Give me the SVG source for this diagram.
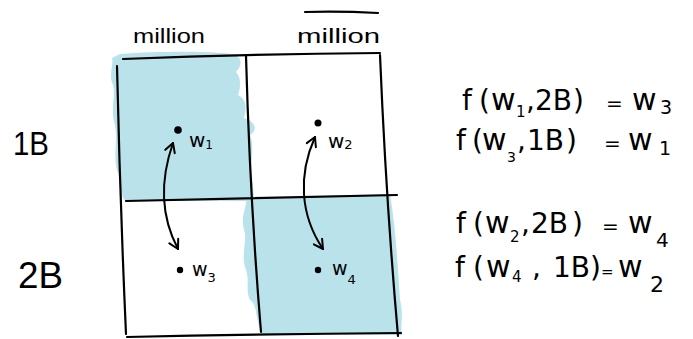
<svg xmlns="http://www.w3.org/2000/svg" width="693" height="339" viewBox="0 0 693 339">
<style>
.ln{fill:none;stroke:#000;stroke-width:2.2;stroke-linecap:round;stroke-linejoin:round}
.blue{fill:#b9e2eb}
.t{font-family:"Liberation Sans","DejaVu Sans",sans-serif;fill:#000}
.e{font-family:"DejaVu Sans","Liberation Sans",sans-serif;fill:#000;font-size:28px}
.dot{fill:#000}
.arr{fill:none;stroke:#000;stroke-width:2;stroke-linecap:round;marker-start:url(#ah);marker-end:url(#ah)}
.w{font-size:30px}
.eq{font-size:20px}
</style>
<defs>
<marker id="ah" viewBox="0 0 12 12" refX="11" refY="6" markerWidth="12" markerHeight="12" markerUnits="userSpaceOnUse" orient="auto-start-reverse">
<polyline points="2,1 11,6 2,11" fill="none" stroke="#000" stroke-width="2" stroke-linecap="round" stroke-linejoin="round"/>
</marker>
</defs>
<rect width="693" height="339" fill="#fff"/>
<g id="shading">
<path class="blue" d="M120,54 C160,51 220,51 236,55 C244,60 240,68 236,72 C242,78 240,90 238,95 C248,100 246,110 244,118 C256,122 258,130 250,135 C254,145 252,160 250,170 C254,180 252,190 255,201 L125,201 C118,190 122,180 117,170 C113,155 118,140 115,125 C110,110 116,95 113,85 C108,75 114,65 112,58 Z"/>
<path class="blue" d="M246,198 L390,194 C396,230 398,270 400,300 C404,315 400,325 402,335 L262,334 C255,320 258,305 250,300 C245,290 250,280 246,270 C240,255 248,240 244,230 C240,215 248,205 246,198 Z"/>
</g>
<g id="grid">
<path class="ln" d="M123,59 Q250,54 380,53"/>
<path class="ln" d="M117,66 Q120,200 126,334"/>
<path class="ln" d="M246,56 Q250,200 261,332"/>
<path class="ln" d="M380,55 Q386,200 398,336"/>
<path class="ln" d="M126,201 Q260,198 397,195"/>
<path class="ln" d="M127,337 Q260,334 401,333"/>
<path class="ln" d="M305,12 Q340,11 378,13"/>
</g>
<g id="axis-labels">
<text class="t" x="133" y="43" font-size="20" textLength="72" lengthAdjust="spacingAndGlyphs">million</text>
<text class="t" x="297" y="43" font-size="20" textLength="83" lengthAdjust="spacingAndGlyphs">million</text>
<text class="t" x="13" y="155" font-size="34" textLength="36" lengthAdjust="spacingAndGlyphs">1B</text>
<text class="t" x="18" y="288" font-size="36" textLength="45" lengthAdjust="spacingAndGlyphs">2B</text>
</g>
<g id="w1">
<circle class="dot" cx="178" cy="130" r="3.8"/>
<text class="e" x="189" y="147" style="font-size:20px">w<tspan style="font-size:12px" dy="2">1</tspan></text>
</g>
<g id="w2">
<circle class="dot" cx="318" cy="123" r="3.5"/>
<text class="e" x="328" y="148" style="font-size:20px">w<tspan style="font-size:13px" dy="1">2</tspan></text>
</g>
<g id="w3">
<circle class="dot" cx="180" cy="270" r="3.2"/>
<text class="e" x="192" y="276" style="font-size:19px">w<tspan style="font-size:13px" dy="6">3</tspan></text>
</g>
<g id="w4">
<circle class="dot" cx="318" cy="270" r="3.2"/>
<text class="e" x="332" y="275" style="font-size:19px">w<tspan style="font-size:13px" dy="9">4</tspan></text>
</g>
<g id="connectors">
<path class="arr" d="M173,143 C160,180 160,215 178,249"/>
<path class="arr" d="M315,137 C298,175 300,215 323,249"/>
</g>
<g id="equations">
<text class="e" x="462" y="110">f<tspan x="479">(</tspan><tspan x="491" class="w">w</tspan><tspan x="516" style="font-size:15px" dy="7">1</tspan><tspan x="526" dy="-7">,</tspan><tspan x="535">2B</tspan><tspan x="573">)</tspan><tspan x="606" class="eq">=</tspan><tspan x="632" class="w">w</tspan><tspan x="660" style="font-size:19px" dy="4">3</tspan></text>
<text class="e" x="456" y="150">f<tspan x="472">(</tspan><tspan x="482" class="w">w</tspan><tspan x="507" style="font-size:14px" dy="12">3</tspan><tspan x="517" dy="-12">,</tspan><tspan x="527">1B</tspan><tspan x="566">)</tspan><tspan x="604" class="eq">=</tspan><tspan x="628" class="w">w</tspan><tspan x="659" style="font-size:19px" dy="5">1</tspan></text>
<text class="e" x="456" y="233">f<tspan x="473">(</tspan><tspan x="485" class="w">w</tspan><tspan x="510" style="font-size:15px" dy="9">2</tspan><tspan x="521" dy="-9">,</tspan><tspan x="531">2B</tspan><tspan x="572">)</tspan><tspan x="602" class="eq">=</tspan><tspan x="628" class="w">w</tspan><tspan x="656" style="font-size:20px" dy="14">4</tspan></text>
<text class="e" x="455" y="277">f<tspan x="473">(</tspan><tspan x="486" class="w">w</tspan><tspan x="512" style="font-size:15px" dy="5">4</tspan><tspan x="532" dy="-5">,</tspan><tspan x="553">1B</tspan><tspan x="590">)</tspan><tspan x="601" style="font-size:15px">=</tspan><tspan x="618" class="w">w</tspan><tspan x="650" style="font-size:22px" dy="15">2</tspan></text>
</g>
</svg>
